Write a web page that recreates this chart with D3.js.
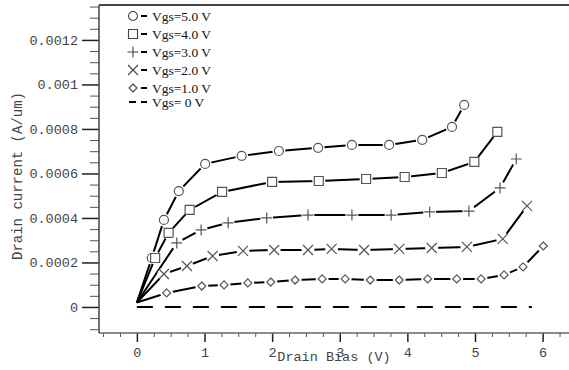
<!DOCTYPE html>
<html lang="en">
<head>
<meta charset="UTF-8">
<title>Drain current vs drain bias</title>
<script src="https://d3js.org/d3.v7.min.js"></script>
<style>
  body { margin: 0; background: #fff; }
  .tick text { font-family: "Liberation Mono", monospace; font-size: 13.5px; fill: #444; }
</style>
</head>
<body>
<script>
// series labels, top to bottom in the legend
var seriesNames = ["Vgs=5.0 V", "Vgs=4.0 V", "Vgs=3.0 V", "Vgs=2.0 V", "Vgs=1.0 V", "Vgs= 0 V"];
var markerTypes = ["circle", "square", "plus", "cross", "diamond", "none"];

// drain bias (V) and drain current (A/um)
var biasV5 = [0, 0.22, 0.40, 0.62, 1.01, 1.55, 2.10, 2.68, 3.18, 3.73, 4.22, 4.66, 4.84];
var currV5 = [0.00002, 0.000220, 0.000391, 0.000521, 0.000643, 0.000679, 0.000701, 0.000715, 0.000728, 0.000728, 0.000751, 0.000809, 0.000908];

var biasV4 = [0, 0.27, 0.47, 0.78, 1.26, 2.00, 2.69, 3.39, 3.96, 4.51, 4.99, 5.33];
var currV4 = [0.00002, 0.000220, 0.000333, 0.000436, 0.000517, 0.000562, 0.000566, 0.000575, 0.000584, 0.000602, 0.000652, 0.000787];

var biasV3 = [0, 0.59, 0.95, 1.35, 1.92, 2.53, 3.18, 3.76, 4.33, 4.91, 5.37, 5.61];
var currV3 = [0.00002, 0.000288, 0.000346, 0.000378, 0.000400, 0.000413, 0.000413, 0.000413, 0.000427, 0.000431, 0.000535, 0.000665];

var biasV2 = [0, 0.40, 0.74, 1.12, 1.57, 2.03, 2.53, 2.88, 3.36, 3.88, 4.36, 4.88, 5.41, 5.77];
var currV2 = [0.00002, 0.000148, 0.000184, 0.000229, 0.000252, 0.000256, 0.000256, 0.000261, 0.000256, 0.000261, 0.000265, 0.000270, 0.000306, 0.000454];

var biasV1 = [0, 0.44, 0.96, 1.29, 1.64, 1.98, 2.34, 2.74, 3.08, 3.45, 3.88, 4.30, 4.73, 5.09, 5.43, 5.71, 6.01];
var currV1 = [0.00002, 0.000063, 0.000094, 0.000099, 0.000108, 0.000112, 0.000121, 0.000126, 0.000126, 0.000121, 0.000121, 0.000126, 0.000126, 0.000126, 0.000144, 0.000180, 0.000274];

var biasV0 = [0, 5.84];
var currV0 = [0, 0];

var xTicks = [0, 1, 2, 3, 4, 5, 6];
var yTicks = [0, 0.0002, 0.0004, 0.0006, 0.0008, 0.001, 0.0012];
var yTickLabels = ["0", "0.0002", "0.0004", "0.0006", "0.0008", "0.001", "0.0012"];

var allBias = [biasV5, biasV4, biasV3, biasV2, biasV1, biasV0];
var allCurr = [currV5, currV4, currV3, currV2, currV1, currV0];

var W = 569, H = 370;
var plotLeft = 99, plotTop = 5, plotRight = 569, plotBottom = 333;

var svg = d3.select("body").append("svg")
    .attr("width", W)
    .attr("height", H);

var x = d3.scaleLinear().domain([-0.56, 6.39]).range([plotLeft, plotRight]);
var y = d3.scaleLinear().domain([-0.000117, 0.001357]).range([plotBottom, plotTop]);

// minor ticks
var xMinor = d3.range(-0.5, 6.3, 0.25).filter(function(v) { return Math.abs(v - Math.round(v)) > 0.01; });
var yMinor = d3.range(-0.0001, 0.00136, 0.00005).filter(function(v) { return Math.abs(v / 0.0002 - Math.round(v / 0.0002)) > 0.01; });

svg.append("g")
    .attr("transform", "translate(0," + plotBottom + ")")
    .call(d3.axisBottom(x).tickValues(xMinor).tickSize(4).tickFormat(""))
    .call(function(g) { g.select(".domain").remove(); })
    .selectAll("line").attr("stroke", "#555");

svg.append("g")
    .attr("transform", "translate(" + plotLeft + ",0)")
    .call(d3.axisLeft(y).tickValues(yMinor).tickSize(9).tickFormat(""))
    .call(function(g) { g.select(".domain").remove(); })
    .selectAll("line").attr("stroke", "#555");

// major x ticks
var xAxis = svg.append("g")
    .attr("transform", "translate(0," + plotBottom + ")")
    .call(d3.axisBottom(x).tickValues(xTicks).tickSize(9).tickPadding(5).tickFormat(d3.format("d")));
xAxis.select(".domain").remove();
xAxis.selectAll("line").attr("stroke", "#222").attr("stroke-width", 1.5);

// major y ticks
var yAxis = svg.append("g")
    .attr("transform", "translate(" + plotLeft + ",0)")
    .call(d3.axisLeft(y).tickValues(yTicks).tickSize(17).tickPadding(4)
        .tickFormat(function(d, i) { return yTickLabels[i]; }));
yAxis.select(".domain").remove();
yAxis.selectAll("line").attr("stroke", "#222").attr("stroke-width", 1.5);

// frame
svg.append("line").attr("x1", plotLeft).attr("x2", plotRight).attr("y1", plotBottom).attr("y2", plotBottom)
    .attr("stroke", "#666").attr("stroke-width", 1.5);
svg.append("line").attr("x1", plotLeft).attr("x2", plotLeft).attr("y1", plotTop).attr("y2", plotBottom)
    .attr("stroke", "#444").attr("stroke-width", 1.5);
svg.append("line").attr("x1", plotLeft).attr("x2", plotRight).attr("y1", plotTop).attr("y2", plotTop)
    .attr("stroke", "#444").attr("stroke-width", 2);

// axis titles
svg.append("text")
    .attr("x", 334).attr("y", 361)
    .attr("text-anchor", "middle")
    .style("font-family", "Liberation Mono, monospace")
    .style("font-size", "13.5px")
    .attr("fill", "#444")
    .text("Drain Bias (V)");

svg.append("text")
    .attr("transform", "translate(22,176) rotate(-90)")
    .attr("text-anchor", "middle")
    .style("font-family", "Liberation Mono, monospace")
    .style("font-size", "14px")
    .attr("fill", "#444")
    .text("Drain current (A/um)");

function markerPath(type) {
    if (type == "circle") return d3.symbol().type(d3.symbolCircle).size(Math.PI * 4.5 * 4.5)();
    if (type == "square") return "M-4.5,-4.5H4.5V4.5H-4.5Z";
    if (type == "plus") return "M-5.5,0H5.5M0,-5.5V5.5";
    if (type == "cross") return "M-5,-5L5,5M-5,5L5,-5";
    if (type == "diamond") return "M0,-4L4,0L0,4L-4,0Z";
    return "";
}

var line = d3.line()
    .x(function(d) { return x(d[0]); })
    .y(function(d) { return y(d[1]); });

allBias.forEach(function(bias, s) {
    var pts = bias.map(function(b, i) { return [b, allCurr[s][i]]; });
    var g = svg.append("g");
    var path = g.append("path")
        .datum(pts)
        .attr("d", line)
        .attr("fill", "none")
        .attr("stroke", "#000")
        .attr("stroke-width", 2);
    if (markerTypes[s] == "none") {
        path.attr("stroke-dasharray", "16,12");
        return;
    }
    var marks = pts.slice(1);
    // white patch so the line breaks around each marker
    g.selectAll(".halo").data(marks).enter().append("circle")
        .attr("cx", function(d) { return x(d[0]); })
        .attr("cy", function(d) { return y(d[1]); })
        .attr("r", 6.5)
        .attr("fill", "#fff");
    g.selectAll(".mark").data(marks).enter().append("path")
        .attr("transform", function(d) { return "translate(" + x(d[0]) + "," + y(d[1]) + ")"; })
        .attr("d", markerPath(markerTypes[s]))
        .attr("fill", "#fff")
        .attr("stroke", "#555")
        .attr("stroke-width", 1.2);
});

// legend
var legendY = [16, 34, 52, 70, 88, 102];
var legend = svg.append("g");
seriesNames.forEach(function(name, i) {
    var row = legend.append("g").attr("transform", "translate(0," + legendY[i] + ")");
    if (markerTypes[i] == "none") {
        row.append("line").attr("x1", 129).attr("x2", 136).attr("y1", 0).attr("y2", 0)
            .attr("stroke", "#000").attr("stroke-width", 2);
    } else {
        row.append("path")
            .attr("transform", "translate(133,0)")
            .attr("d", markerPath(markerTypes[i]))
            .attr("fill", "#fff")
            .attr("stroke", "#444")
            .attr("stroke-width", 1.1);
    }
    row.append("line").attr("x1", 141).attr("x2", 147).attr("y1", 0).attr("y2", 0)
        .attr("stroke", "#000").attr("stroke-width", 2);
    row.append("text")
        .attr("x", 152).attr("y", 4.5)
        .style("font-family", "Liberation Serif, serif")
        .style("font-size", "13.5px")
        .attr("fill", "#111")
        .text(name);
});
</script>
</body>
</html>
